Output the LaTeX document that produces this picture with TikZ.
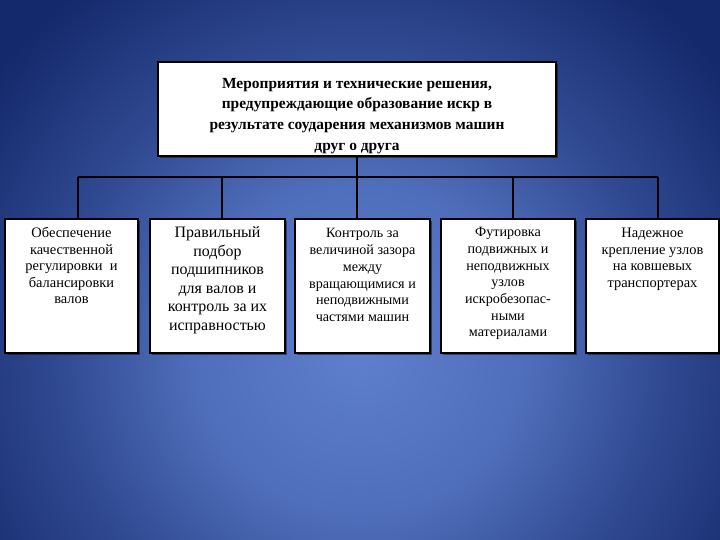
\documentclass[tikz,border=0pt]{standalone}
\usepackage{fontspec}
\setmainfont{Liberation Serif}
\usetikzlibrary{shadows}
\pgfdeclareradialshading{bgshade}{\pgfpoint{0bp}{0bp}}{rgb(0bp)=(0.37,0.50,0.80); rgb(8bp)=(0.31,0.43,0.73); rgb(15bp)=(0.18,0.28,0.56); rgb(22bp)=(0.08,0.16,0.42); rgb(50bp)=(0.08,0.16,0.42)}
\tikzset{
  box/.style={draw=black, line width=1.1bp, fill=white, inner sep=0pt,
    drop shadow={shadow xshift=2bp, shadow yshift=-2bp, opacity=0.45, fill=black}},
  topbox/.style={box, line width=1.8bp},
  txt/.style={align=center, inner sep=0pt, anchor=north, text=black},
  conn/.style={draw=black, line width=1.2bp}
}
\begin{document}
\begin{tikzpicture}[x=1bp, y=-1bp]
\useasboundingbox (0,0) rectangle (720,540);
\begin{scope}
  \clip (0,0) rectangle (720,540);
  \fill[fill={rgb,255:red,20;green,40;blue,105}] (0,0) rectangle (720,540);
  \shade[shading=bgshade] (360,350) circle (520bp);
\end{scope}

% top box
\node[topbox, minimum width=398bp, minimum height=94bp] (top) at (357,109) {};
\node[align=center, inner sep=0pt, font=\bfseries\fontsize{15.5}{21}\selectfont] (ttop) at (357,116)
  {Мероприятия и технические решения,\\ предупреждающие образование искр в\\ результате соударения механизмов машин\\ друг о друга};

% lower boxes
\node[box, minimum width=133bp, minimum height=134bp] (b1) at (71.5,286) {};
\node[box, minimum width=135bp, minimum height=134bp] (b2) at (217.5,286) {};
\node[box, minimum width=135bp, minimum height=134bp] (b3) at (362.5,286) {};
\node[box, minimum width=134bp, minimum height=134bp] (b4) at (508,286) {};
\node[box, minimum width=133bp, minimum height=134bp] (b5) at (652.5,286) {};

\node[txt, yshift=-9bp, font=\fontsize{14.5}{16.5}\selectfont] (t1) at (b1.north)
  {Обеспечение\\ качественной\\ регулировки~ и\\ балансировки\\ валов};
\node[txt, yshift=-8bp, font=\fontsize{16}{18.6}\selectfont] (t2) at (b2.north)
  {Правильный\\ подбор\\ подшипников\\ для валов и\\ контроль за их\\ исправностью};
\node[txt, yshift=-10bp, font=\fontsize{14.2}{16.8}\selectfont] (t3) at (b3.north)
  {Контроль за\\ величиной зазора\\ между\\ вращающимися и\\ неподвижными\\ частями машин};
\node[txt, yshift=-9bp, font=\fontsize{14.2}{16.7}\selectfont] (t4) at (b4.north)
  {Футировка\\ подвижных и\\ неподвижных\\ узлов\\ искробезопас-\\ ными\\ материалами};
\node[txt, yshift=-9bp, font=\fontsize{14.5}{17}\selectfont] (t5) at (b5.north)
  {Надежное\\ крепление узлов\\ на ковшевых\\ транспортерах};

% connectors
\coordinate (j1) at (78,177);
\coordinate (j2) at (222,177);
\coordinate (j4) at (513,177);
\coordinate (j5) at (658,177);
\draw[conn] (j1) -- (j5);
\draw[conn] (top.south) -- (top.south |- j1);
\draw[conn] (j1) -- (j1 |- b1.north);
\draw[conn] (j2) -- (j2 |- b2.north);
\draw[conn] (top.south |- j1) -- (top.south |- b3.north);
\draw[conn] (j4) -- (j4 |- b4.north);
\draw[conn] (j5) -- (j5 |- b5.north);
\end{tikzpicture}
\end{document}
